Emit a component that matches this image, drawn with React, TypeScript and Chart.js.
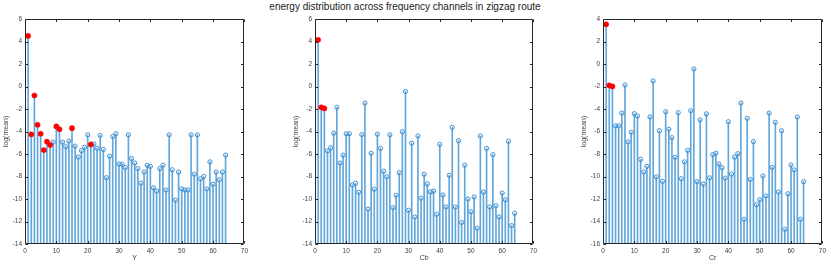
import React, { useEffect, useRef } from 'react';
import { Chart, registerables } from 'chart.js';

Chart.register(...registerables);

const TITLE = 'energy distribution across frequency channels in zigzag route';
const Y_AXIS_LABEL = 'log(mean)';
const X_LABELS = ['Y', 'Cb', 'Cr'];

// channel numbers along the zigzag route
const channels: number[] = Array.from({ length: 64 }, (_, i) => i + 1);

const yValues = [
  4.5, -4.25, -0.8, -3.4, -4.2, -5.65, -4.9, -5.2, -4.95, -3.55,
  -3.8, -4.95, -5.35, -4.85, -3.7, -5.3, -6.27, -5.7, -5.4, -4.3,
  -5.15, -5.1, -5.5, -4.35, -5.6, -8.1, -6.2, -4.45, -4.2, -6.9,
  -6.9, -7.2, -4.3, -6.4, -6.8, -7.3, -8.6, -7.6, -7.0, -7.1,
  -9.0, -9.3, -7.3, -7.0, -9.2, -4.3, -7.4, -10.1, -7.6, -9.1,
  -9.2, -9.2, -4.3, -7.8, -4.3, -8.2, -8.0, -9.1, -6.7, -8.7,
  -7.6, -8.3, -7.6, -6.1,
];
const cbValues = [
  4.15, -1.85, -1.95, -5.72, -5.45, -4.15, -1.85, -6.8, -6.1, -4.2,
  -4.2, -8.75, -8.6, -9.4, -4.27, -1.47, -10.9, -5.93, -9.13, -4.24,
  -5.5, -7.53, -8.03, -4.3, -10.77, -9.67, -7.65, -4.02, -0.44, -11.0,
  -5.04, -11.6, -4.4, -9.93, -7.8, -8.65, -9.36, -9.3, -11.36, -5.14,
  -9.64, -10.71, -7.9, -3.63, -10.71, -4.81, -12.08, -7.0, -10.0, -11.13,
  -9.82, -12.6, -4.4, -9.38, -5.5, -10.71, -6.06, -10.6, -11.6, -9.47,
  -10.06, -4.87, -12.37, -11.27,
];
const crValues = [
  3.53, -1.9, -1.99, -5.5, -5.5, -4.36, -1.87, -6.93, -6.07, -4.41,
  -4.62, -8.47, -9.6, -9.1, -4.71, -1.51, -10.04, -5.93, -10.43, -4.24,
  -5.8, -6.55, -8.3, -4.33, -10.2, -8.7, -7.67, -4.15, -0.44, -10.46,
  -4.97, -10.67, -4.43, -10.12, -8.06, -7.92, -8.89, -9.22, -10.14, -5.13,
  -9.78, -8.27, -7.97, -3.47, -13.81, -4.83, -10.26, -6.9, -12.5, -12.06,
  -9.96, -11.73, -4.36, -9.19, -5.19, -11.38, -5.93, -14.7, -11.53, -8.98,
  -9.42, -4.71, -13.81, -10.46,
];

// highlighted (red) channels per component
const yRed = [1, 2, 3, 4, 5, 6, 7, 8, 10, 11, 15, 21];
const cbRed = [1, 2, 3];
const crRed = [1, 2, 3];

const yRange = [-14, 6];
const cbRange = [-14, 6];
const crRange = [-16, 4];
const xRange = [0, 70];

const FONT = '"Liberation Sans", Arial, Helvetica, sans-serif';
const STEM = '#62a7dc';
const MARK = '#3f8fd0';
const RED = '#ff0000';
const AXIS = '#262626';

const boxPlugin = {
  id: 'matlabBox',
  afterDraw(chart: any) {
    const { ctx, chartArea: a, scales } = chart;
    ctx.save();
    ctx.strokeStyle = AXIS;
    ctx.lineWidth = 1;
    const l = Math.round(a.left) + 0.5;
    const r = Math.round(a.right) - 0.5;
    const t = Math.round(a.top) + 0.5;
    const b = Math.round(a.bottom) - 0.5;
    ctx.beginPath();
    ctx.moveTo(l, t); ctx.lineTo(r, t); ctx.lineTo(r, b); ctx.lineTo(l, b); ctx.closePath();
    ctx.stroke();
    const tl = 2.5;
    ctx.beginPath();
    scales.x.ticks.forEach((tk: any) => {
      const px = Math.round(scales.x.getPixelForValue(tk.value)) + 0.5;
      ctx.moveTo(px, b); ctx.lineTo(px, b - tl);
      ctx.moveTo(px, t); ctx.lineTo(px, t + tl);
    });
    scales.y.ticks.forEach((tk: any) => {
      const py = Math.round(scales.y.getPixelForValue(tk.value)) + 0.5;
      ctx.moveTo(l, py); ctx.lineTo(l + tl, py);
      ctx.moveTo(r, py); ctx.lineTo(r - tl, py);
    });
    ctx.stroke();
    ctx.restore();
  },
};

type PanelProps = {
  areaLeft: number;
  areaWidth: number;
  values: number[];
  red: number[];
  range: number[];
  xLabel: string;
};

function Panel({ areaLeft, areaWidth, values, red, range, xLabel }: PanelProps) {
  const ref = useRef<HTMLCanvasElement | null>(null);
  const axisW = 25;
  const rightPad = 6;
  const width = axisW + areaWidth + rightPad;
  const height = 265;

  useEffect(() => {
    if (!ref.current) return;
    const stems = channels.map((c, i) => ({ x: c, y: values[i] }));
    const marks = channels
      .filter((c) => red.indexOf(c) < 0)
      .map((c) => ({ x: c, y: values[c - 1] }));
    const reds = red.map((c) => ({ x: c, y: values[c - 1] }));
    const chart = new Chart(ref.current, {
      type: 'bar',
      data: {
        datasets: [
          {
            type: 'bar',
            data: stems as any,
            base: range[0],
            barThickness: 1,
            backgroundColor: STEM,
            borderWidth: 0,
            grouped: false,
            order: 3,
          } as any,
          {
            type: 'scatter',
            data: marks as any,
            pointRadius: 2.1,
            pointBorderWidth: 1,
            pointBorderColor: MARK,
            pointBackgroundColor: 'rgba(0,0,0,0)',
            order: 2,
          } as any,
          {
            type: 'scatter',
            data: reds as any,
            pointRadius: 2.6,
            pointBorderWidth: 0.5,
            pointBorderColor: RED,
            pointBackgroundColor: RED,
            order: 1,
          } as any,
        ],
      },
      options: {
        animation: false,
        responsive: false,
        maintainAspectRatio: false,
        layout: { padding: { top: 19, right: rightPad, bottom: 0, left: 0 } },
        plugins: { legend: { display: false }, tooltip: { enabled: false }, title: { display: false } },
        scales: {
          x: {
            type: 'linear',
            offset: false,
            min: xRange[0],
            max: xRange[1],
            grid: { display: false, drawTicks: false },
            border: { display: false },
            ticks: { stepSize: 10, color: '#404040', padding: 3, font: { family: FONT, size: 6.5 }, maxRotation: 0 },
            title: { display: true, text: xLabel, color: '#404040', font: { family: FONT, size: 7 }, padding: { top: 0, bottom: 3 } },
            afterFit: (s: any) => { s.height = 21; },
          },
          y: {
            type: 'linear',
            min: range[0],
            max: range[1],
            grid: { display: false, drawTicks: false },
            border: { display: false },
            ticks: { stepSize: 2, color: '#404040', padding: 3, font: { family: FONT, size: 6.5 } },
            title: { display: true, text: Y_AXIS_LABEL, color: '#404040', font: { family: FONT, size: 7 }, padding: { top: 2, bottom: 0 } },
            afterFit: (s: any) => { s.width = axisW; },
          },
        },
      } as any,
      plugins: [boxPlugin],
    });
    return () => chart.destroy();
  }, []);

  return (
    <canvas
      ref={ref}
      width={width}
      height={height}
      style={{ position: 'absolute', left: areaLeft - axisW, top: 0, width, height }}
    />
  );
}

export default function App() {
  return (
    <div style={{ position: 'fixed', left: 0, top: 0, width: 831, height: 265, background: '#ffffff', overflow: 'hidden' }}>
      <div
        style={{
          position: 'absolute', left: 0, top: 1, width: 810, textAlign: 'center',
          fontFamily: FONT, fontSize: 10, lineHeight: '12px', color: '#1a1a1a', whiteSpace: 'nowrap',
        }}
      >
        {TITLE}
      </div>
      <Panel areaLeft={25} areaWidth={220} values={yValues} red={yRed} range={yRange} xLabel={X_LABELS[0]} />
      <Panel areaLeft={315} areaWidth={219} values={cbValues} red={cbRed} range={cbRange} xLabel={X_LABELS[1]} />
      <Panel areaLeft={603} areaWidth={220} values={crValues} red={crRed} range={crRange} xLabel={X_LABELS[2]} />
    </div>
  );
}
